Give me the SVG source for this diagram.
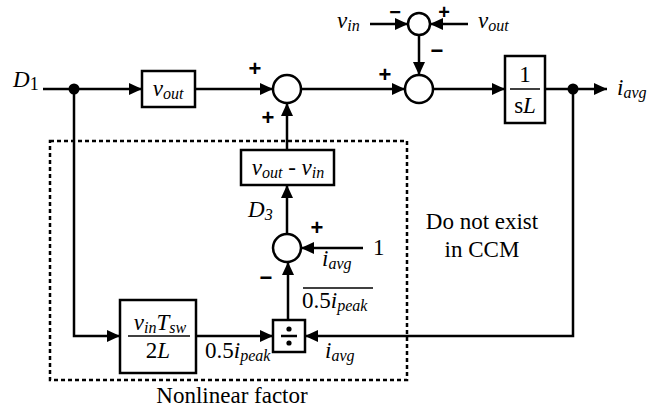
<svg xmlns="http://www.w3.org/2000/svg" width="661" height="413" viewBox="0 0 661 413" font-family="Liberation Serif" fill="#000">
<style>
.bx{fill:#fff;stroke:#000;stroke-width:2.5}
.thin{stroke:#000;stroke-width:1.5}
</style>
<defs>
<marker id="ah" markerUnits="userSpaceOnUse" markerWidth="13" markerHeight="12" refX="13" refY="6" orient="auto">
<path d="M0,0 L13,6 L0,12 z" fill="#000"/>
</marker>
</defs>

<g id="connectors" fill="none" stroke="#000" stroke-width="2.5">
<line marker-end="url(#ah)" x1="43" y1="89" x2="142" y2="89"/>
<line marker-end="url(#ah)" x1="195" y1="89" x2="273" y2="89"/>
<line marker-end="url(#ah)" x1="301" y1="89" x2="405" y2="89"/>
<line marker-end="url(#ah)" x1="433" y1="89" x2="505" y2="89"/>
<line marker-end="url(#ah)" x1="545" y1="89" x2="607" y2="89"/>
<line marker-end="url(#ah)" x1="370" y1="24" x2="408" y2="24"/>
<line marker-end="url(#ah)" x1="468" y1="24" x2="430" y2="24"/>
<line marker-end="url(#ah)" x1="419" y1="35" x2="419" y2="75"/>
<line marker-end="url(#ah)" x1="287" y1="150" x2="287" y2="103"/>
<line marker-end="url(#ah)" x1="287" y1="234" x2="287" y2="185"/>
<line marker-end="url(#ah)" x1="363" y1="248" x2="301" y2="248"/>
<line marker-end="url(#ah)" x1="288" y1="320" x2="288" y2="262"/>
<polyline marker-end="url(#ah)" points="74,89 74,336 120,336"/>
<line marker-end="url(#ah)" x1="196" y1="336" x2="273" y2="336"/>
<polyline marker-end="url(#ah)" points="573,89 573,336 305,336"/>
<circle cx="74" cy="89" r="5.5" fill="#000" stroke="none"/>
<circle cx="573" cy="89" r="5.5" fill="#000" stroke="none"/>
</g>

<g id="nonlinear-region">
<rect x="50" y="141" width="357" height="239" fill="none" stroke="#000" stroke-width="2.5" stroke-dasharray="4 3"/>
<text x="232" y="403" font-family="Liberation Serif" font-size="23" text-anchor="middle">Nonlinear factor</text>
</g>

<g id="label-D1">
<text x="13" y="87" font-family="Liberation Serif" font-size="23" font-style="italic">D<tspan font-style="normal" font-size="18" dy="3">1</tspan></text>
</g>

<g id="block-vout">
<rect class="bx" x="142" y="71" width="53" height="36"/>
<text x="168" y="96" font-family="Liberation Serif" font-size="23" font-style="italic" text-anchor="middle">v<tspan font-size="16" dy="3">out</tspan></text>
</g>

<g id="sum1">
<circle class="bx" cx="287" cy="89" r="14"/>
<text x="255" y="76" font-family="Liberation Sans" font-weight="bold" font-size="22" text-anchor="middle">+</text>
<text x="268" y="125" font-family="Liberation Sans" font-weight="bold" font-size="22" text-anchor="middle">+</text>
</g>

<g id="sum-top">
<circle class="bx" cx="419" cy="24" r="11"/>
<text x="337" y="28" font-family="Liberation Serif" font-size="23" font-style="italic">v<tspan font-size="16" dy="3">in</tspan></text>
<text x="478" y="28" font-family="Liberation Serif" font-size="23" font-style="italic">v<tspan font-size="16" dy="3">out</tspan></text>
<text x="395" y="19" font-family="Liberation Sans" font-weight="bold" font-size="20" text-anchor="middle">&#8722;</text>
<text x="444" y="19" font-family="Liberation Sans" font-weight="bold" font-size="20" text-anchor="middle">+</text>
</g>

<g id="sum2">
<circle class="bx" cx="419" cy="89" r="14"/>
<text x="385" y="82" font-family="Liberation Sans" font-weight="bold" font-size="22" text-anchor="middle">+</text>
<text x="437" y="58" font-family="Liberation Sans" font-weight="bold" font-size="22" text-anchor="middle">&#8722;</text>
</g>

<g id="block-1-sL">
<rect class="bx" x="505" y="56" width="40" height="67"/>
<text x="525" y="82" font-family="Liberation Serif" font-size="23" text-anchor="middle">1</text>
<line class="thin" x1="510" y1="89" x2="540" y2="89"/>
<text x="525" y="113" font-family="Liberation Serif" font-size="23" text-anchor="middle">s<tspan font-style="italic">L</tspan></text>
</g>

<g id="label-iavg-out">
<text x="617" y="95" font-family="Liberation Serif" font-size="23" font-style="italic">i<tspan font-size="16" dy="3">avg</tspan></text>
</g>

<g id="block-vout-vin">
<rect class="bx" x="241" y="150" width="93" height="35"/>
<text x="288" y="175" font-family="Liberation Serif" font-size="23" font-style="italic" text-anchor="middle">v<tspan font-size="16" dy="3">out</tspan><tspan font-style="normal" dy="-3"> - </tspan>v<tspan font-size="16" dy="3">in</tspan></text>
</g>

<g id="label-D3">
<text x="248" y="217" font-family="Liberation Serif" font-size="23" font-style="italic">D<tspan font-size="16" dy="3">3</tspan></text>
</g>

<g id="sum3">
<circle class="bx" cx="287" cy="248" r="14"/>
<text x="317" y="235" font-family="Liberation Sans" font-weight="bold" font-size="22" text-anchor="middle">+</text>
<text x="266" y="285" font-family="Liberation Sans" font-weight="bold" font-size="22" text-anchor="middle">&#8722;</text>
<text x="373" y="255" font-family="Liberation Serif" font-size="23">1</text>
</g>

<g id="label-ratio">
<text x="322" y="266" font-family="Liberation Serif" font-size="23" font-style="italic">i<tspan font-size="16" dy="3">avg</tspan></text>
<line class="thin" x1="303" y1="288" x2="373" y2="288"/>
<text x="302" y="308" font-family="Liberation Serif" font-size="23">0.5<tspan font-style="italic">i</tspan><tspan font-size="16" font-style="italic" dy="3">peak</tspan></text>
</g>

<g id="block-divide">
<rect class="bx" x="273" y="320" width="32" height="32"/>
<circle cx="289" cy="329" r="2.6" fill="#000"/>
<line x1="281" y1="336" x2="297" y2="336" stroke="#000" stroke-width="2.5"/>
<circle cx="289" cy="343" r="2.6" fill="#000"/>
</g>

<g id="block-vinTsw">
<rect class="bx" x="120" y="300" width="76" height="73"/>
<text x="160" y="330" font-family="Liberation Serif" font-size="23" font-style="italic" text-anchor="middle">v<tspan font-size="16" dy="3">in</tspan><tspan dy="-3">T</tspan><tspan font-size="16" dy="3">sw</tspan></text>
<line class="thin" x1="128" y1="336" x2="190" y2="336"/>
<text x="158" y="358" font-family="Liberation Serif" font-size="23" text-anchor="middle">2<tspan font-style="italic">L</tspan></text>
</g>

<g id="label-ipeak">
<text x="205" y="358" font-family="Liberation Serif" font-size="23">0.5<tspan font-style="italic">i</tspan><tspan font-size="16" font-style="italic" dy="3">peak</tspan></text>
</g>

<g id="label-iavg-fb">
<text x="325" y="358" font-family="Liberation Serif" font-size="23" font-style="italic">i<tspan font-size="16" dy="3">avg</tspan></text>
</g>

<g id="note">
<text x="482" y="229" font-family="Liberation Serif" font-size="23" text-anchor="middle">Do not exist</text>
<text x="482" y="257" font-family="Liberation Serif" font-size="23" text-anchor="middle">in CCM</text>
</g>
</svg>
